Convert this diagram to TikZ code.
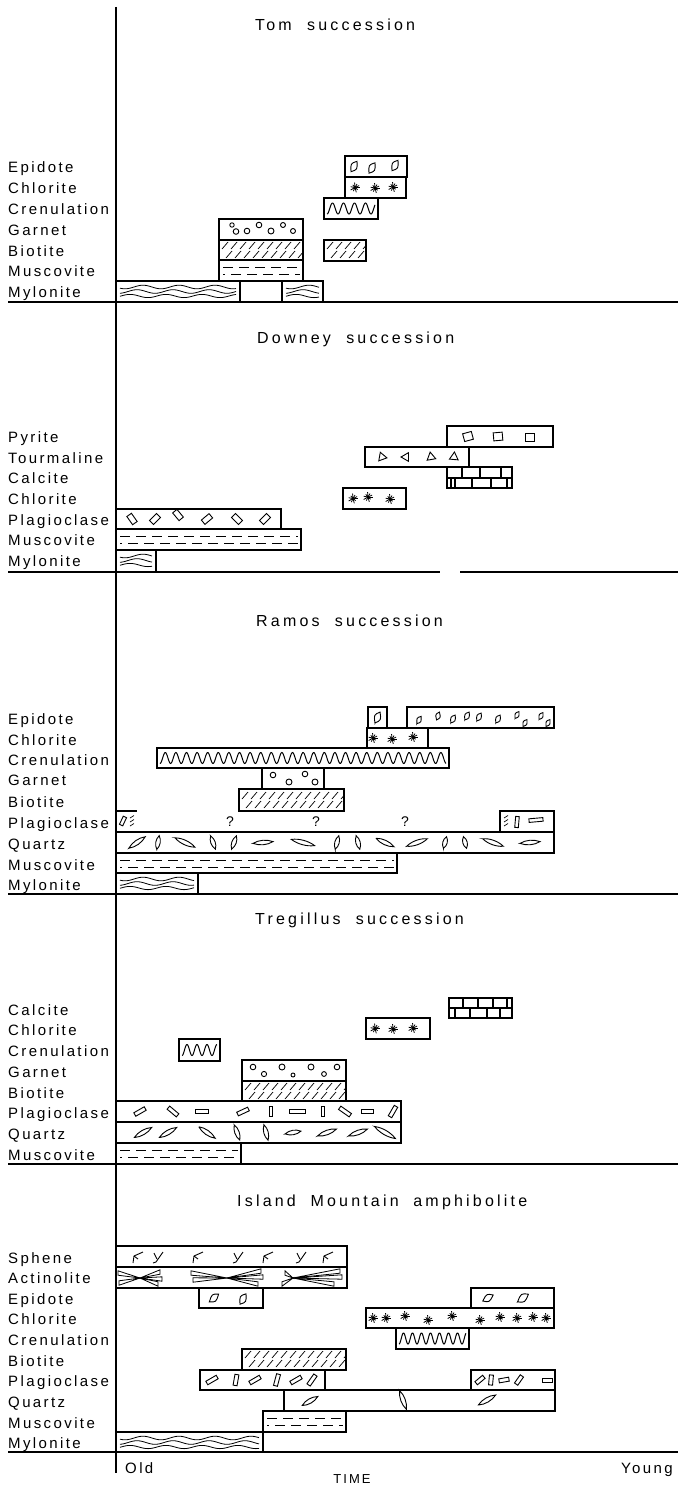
\documentclass[tikz,border=0pt]{standalone}
\usepackage{fontspec}
\setmainfont{Liberation Sans}
\newfontfamily\labfont[LetterSpace=16]{Liberation Sans}
\newfontfamily\titfont[LetterSpace=20]{Liberation Sans}
\tikzset{
  bx/.style={draw=black, line width=1.3pt},
  pat/.style={draw=black, line width=0.9pt},
  sepline/.style={draw=black, line width=1.3pt},
  lab/.style={font=\labfont\fontsize{15}{17}\selectfont, inner sep=0pt, anchor=base west},
  ttl/.style={font=\titfont\fontsize{16}{18}\selectfont, inner sep=0pt, anchor=base west},
  qm/.style={font=\labfont\fontsize{14}{16}\selectfont, inner sep=0pt},
}
% muscovite: two staggered rows of dashes
\newcommand\muscdash[4]{%
  \pgfmathsetmacro\ma{#1+4}\pgfmathsetmacro\mb{#3-3}%
  \pgfmathsetmacro\mya{#2+7}\pgfmathsetmacro\myb{#2+14}%
  \draw[pat,dash pattern=on 10pt off 6pt] (\ma,\mya) -- (\mb,\mya);
  \draw[pat,dash pattern=on 10pt off 6pt,dash phase=8pt] (\ma,\myb) -- (\mb,\myb);}
% biotite: short oblique strokes in two rows
\newcommand\biohatch[4]{%
  \begin{scope}
    \clip (#1+1,#2+1) rectangle (#3-1,#4-1);
    \foreach \d in {3,12,...,300}{%
      \draw[pat,line width=0.7pt] (#1+\d,#2+9) -- ++(6,-7);
      \draw[pat,line width=0.7pt] (#1+\d+4,#2+18) -- ++(6,-7);}
  \end{scope}}
% crenulation: sinusoid through the middle of the box
\newcommand\cren[5]{%
  \pgfmathsetmacro\ca{#1+3}\pgfmathsetmacro\cb{#3-3}\pgfmathsetmacro\cm{(#2+#4)/2}%
  \pgfmathsetmacro\ck{360/#5}%
  \draw[pat,line width=1pt] plot[domain=\ca:\cb,samples=400,variable=\t] (\t,{\cm+5.5*cos(\ck*(\t-\ca))});}
% mylonite: sinuous foliation
\newcommand\mylo[4]{%
  \begin{scope}
    \clip (#1,#2) rectangle (#3,#4);
    \pgfmathsetmacro\la{#1+4}\pgfmathsetmacro\lb{#3-4}%
    \draw[pat,line width=0.8pt] plot[domain=\la:\lb,samples=90,variable=\t] (\t,{#2+6+1.8*sin(10*(\t-#1))});
    \draw[pat,line width=0.8pt] plot[domain=\la:\lb,samples=90,variable=\t] (\t,{#2+10.5+1.8*sin(10*(\t-#1)+60)});
    \draw[pat,line width=0.8pt] plot[domain=\la:\lb,samples=90,variable=\t] (\t,{#2+15+1.6*sin(10*(\t-#1)+130)});
  \end{scope}}
\newcommand\gt[3]{\draw[pat] (#1,#2) circle (#3pt);}
\newcommand\chl[2]{%
  \foreach \a/\r in {0/4.5,40/3.5,75/5,115/4,150/5,190/4.5,230/3.5,265/5,300/4,335/4.5}{\draw[pat,line width=0.8pt] (#1,#2) -- ++(\a:\r);}
  \fill (#1,#2) circle (1.7pt);}
\newcommand\epi[4]{\draw[pat,shift={(#1,#2)},rotate=#3,scale=#4] (-6,0) .. controls (-1,4.5) .. (6,0) .. controls (1,-4.5) .. cycle;}
\newcommand\pyr[3]{\draw[pat,shift={(#1,#2)},rotate=#3] (-4.5,-4) rectangle (4.5,4);}
\newcommand\tur[3]{\draw[pat,shift={(#1,#2)},rotate=#3] (90:5) -- (210:5) -- (330:5) -- cycle;}
\newcommand\lath[5]{\draw[pat,shift={(#1,#2)},rotate=#3] (-#4,-#5) rectangle (#4,#5);}
\newcommand\qz[4]{\draw[pat,shift={(#1,#2)},rotate=#3] (-#4,0) .. controls ({-0.4*#4},3) and ({0.4*#4},3) .. (#4,0) .. controls ({0.4*#4},-3) and ({-0.4*#4},-3) .. cycle;}
\newcommand\sphA[2]{\draw[pat] (#1-4,#2+6) -- (#1-3,#2-1) -- (#1+6,#2-5); \draw[pat] (#1-3,#2-1) -- (#1+1,#2+2);}
\newcommand\sphB[2]{\draw[pat] (#1-3,#2-4) -- (#1,#2+2); \draw[pat] (#1+6,#2-5) -- (#1-1,#2+5) -- (#1-4,#2+6);}
\newcommand\actwedge[4]{\draw[pat,line width=0.8pt] (#1,#2) -- (#3,#4-2.2) -- (#3,#4+2.2) -- cycle;}
\newcommand\lbl[3]{\node[lab] (#1) at (8,#2) {#3};}

\begin{document}
\begin{tikzpicture}[x=1pt,y=-1pt]
\useasboundingbox (0,0) rectangle (678,1485);
\fill[white] (0,0) rectangle (678,1485);

% time axis and section rules
\draw[sepline] (116,7) -- (116,1473);
\draw[sepline] (8,302) -- (678,302);
\draw[sepline] (8,572) -- (440,572);
\draw[sepline] (460,572) -- (678,572);
\draw[sepline] (8,894) -- (678,894);
\draw[sepline] (8,1164) -- (678,1164);
\draw[sepline] (8,1452) -- (678,1452);

% ================= Tom succession =================
\node[ttl] (ttom) at (255,31) {Tom\ \ succession};
\lbl{tom1}{172}{Epidote}
\lbl{tom2}{193}{Chlorite}
\lbl{tom3}{214}{Crenulation}
\lbl{tom4}{235}{Garnet}
\lbl{tom5}{256}{Biotite}
\lbl{tom6}{276.5}{Muscovite}
\lbl{tom7}{297}{Mylonite}
\draw[bx] (345,156) rectangle (407,177);
\epi{354}{166.5}{60}{1} \epi{372}{168}{60}{1} \epi{395}{165.5}{60}{1}
\draw[bx] (345,177) rectangle (406,198);
\chl{355}{187.5} \chl{375}{188} \chl{393}{187}
\draw[bx] (324,198) rectangle (378,219);
\cren{324}{198}{378}{219}{11}
\draw[bx] (219,219) rectangle (303,240);
\gt{232}{225}{2.2} \gt{236}{231.5}{2.8} \gt{247}{231}{2.8} \gt{259}{225}{2.8}
\gt{271}{231}{3} \gt{283}{225}{2.5} \gt{293}{231}{2.5}
\draw[bx] (219,240) rectangle (303,260);
\biohatch{219}{240}{303}{260}
\draw[bx] (324,240) rectangle (366,261);
\biohatch{324}{240}{366}{261}
\draw[bx] (219,260) rectangle (303,281);
\muscdash{219}{260}{303}{281}
\draw[bx] (116,281) rectangle (323,302);
\draw[bx] (240,281) -- (240,302);
\draw[bx] (282,281) -- (282,302);
\mylo{116}{281}{240}{302}
\mylo{282}{281}{323}{302}

% ================= Downey succession =================
\node[ttl] (tdow) at (257,343) {Downey\ \ succession};
\lbl{dow1}{442.5}{Pyrite}
\lbl{dow2}{463}{Tourmaline}
\lbl{dow3}{483.5}{Calcite}
\lbl{dow4}{504.5}{Chlorite}
\lbl{dow5}{525}{Plagioclase}
\lbl{dow6}{545.5}{Muscovite}
\lbl{dow7}{566.5}{Mylonite}
\draw[bx] (447,426) rectangle (553,447);
\pyr{468}{436.5}{15} \pyr{498}{436.5}{5} \pyr{530}{437}{0}
\draw[bx] (365,447) rectangle (469,467);
\tur{382}{457}{200} \tur{406}{457}{30} \tur{431}{457}{190} \tur{454}{457}{175}
\draw[bx] (447,467) rectangle (512,488);
\draw[bx] (447,478) -- (512,478);
\draw[bx] (451,478) -- (451,488);
\foreach \xx in {462,480,501} \draw[bx] (\xx,467) -- (\xx,478);
\foreach \xx in {455,472,491,507} \draw[bx] (\xx,478) -- (\xx,488);
\draw[bx] (343,488) rectangle (406,509);
\chl{353}{498.5} \chl{368}{497} \chl{390}{499}
\draw[bx] (116,509) rectangle (281,529);
\lath{132}{519}{-55}{5}{2.8} \lath{155}{519}{45}{5}{2.8} \lath{178}{515}{-50}{5}{2.8}
\lath{207}{519}{40}{5}{2.8} \lath{237}{519}{-45}{5}{2.8} \lath{265}{519}{45}{5}{2.8}
\draw[bx] (116,529) rectangle (301,550);
\muscdash{116}{529}{301}{550}
\draw[bx] (116,550) rectangle (156,572);
\mylo{116}{550}{156}{572}

% ================= Ramos succession =================
\node[ttl] (tram) at (256,626) {Ramos\ \ succession};
\lbl{ram1}{724.5}{Epidote}
\lbl{ram2}{745}{Chlorite}
\lbl{ram3}{765}{Crenulation}
\lbl{ram4}{785.5}{Garnet}
\lbl{ram5}{807}{Biotite}
\lbl{ram6}{828.5}{Plagioclase}
\lbl{ram7}{849.5}{Quartz}
\lbl{ram8}{870}{Muscovite}
\lbl{ram9}{890}{Mylonite}
\draw[bx] (368,707) rectangle (387,728);
\epi{377.5}{717.5}{65}{1}
\draw[bx] (407,707) rectangle (554,728);
\epi{419}{720}{60}{0.7} \epi{438}{716}{70}{0.7} \epi{453}{719}{60}{0.75}
\epi{467}{716}{60}{0.75} \epi{479}{717}{60}{0.75} \epi{498}{719}{60}{0.75}
\epi{517}{715}{60}{0.65} \epi{525}{723}{60}{0.65} \epi{541}{716}{60}{0.65} \epi{548}{723}{60}{0.65}
\draw[bx] (367,728) rectangle (428,748);
\chl{373}{738} \chl{392}{739} \chl{413}{737}
\draw[bx] (157,748) rectangle (449,768);
\cren{157}{748}{449}{768}{10.6}
\draw[bx] (262,768) rectangle (324,789);
\gt{273}{775}{2.8} \gt{289}{782}{3} \gt{305}{774}{2.8} \gt{315}{782}{3}
\draw[bx] (239,789) rectangle (344,811);
\biohatch{239}{790}{344}{811}
\draw[bx] (116,811) -- (137,811);
\lath{123}{821}{65}{4.5}{1.8}
\draw[pat,line width=0.7pt] (130,818) -- (134,815.5);
\draw[pat,line width=0.7pt] (130,822) -- (134,819.5);
\draw[pat,line width=0.7pt] (130,826) -- (134,823.5);
\draw[bx] (500,811) rectangle (554,832);
\draw[pat,line width=0.7pt] (504,818) -- (508,815.5);
\draw[pat,line width=0.7pt] (504,822) -- (508,819.5);
\draw[pat,line width=0.7pt] (504,826) -- (508,823.5);
\lath{517}{822}{85}{5.5}{1.8} \lath{536}{820}{5}{7}{1.8}
\node[qm] (q1) at (230,822) {?};
\node[qm] (q2) at (316,822) {?};
\node[qm] (q3) at (405,822) {?};
\draw[bx] (116,832) rectangle (554,853);
\qz{137}{842.5}{35}{10} \qz{158}{842.5}{80}{7} \qz{185}{842.5}{-25}{11}
\qz{213}{842.5}{-70}{7} \qz{234}{842.5}{70}{7} \qz{263}{842.5}{5}{10}
\qz{303}{842.5}{-15}{12} \qz{337}{842.5}{75}{7} \qz{358}{842.5}{-75}{7}
\qz{385}{842.5}{-25}{10} \qz{417}{842.5}{20}{11} \qz{445}{842.5}{75}{6}
\qz{465}{842.5}{-75}{6} \qz{493}{842.5}{-20}{11} \qz{530}{842.5}{5}{10}
\draw[bx] (116,853) rectangle (397,873);
\muscdash{116}{853}{397}{873}
\draw[bx] (116,873) rectangle (198,894);
\mylo{116}{873}{198}{894}

% ================= Tregillus succession =================
\node[ttl] (ttre) at (255,924) {Tregillus\ \ succession};
\lbl{tre1}{1015}{Calcite}
\lbl{tre2}{1035.5}{Chlorite}
\lbl{tre3}{1056.5}{Crenulation}
\lbl{tre4}{1077.5}{Garnet}
\lbl{tre5}{1098}{Biotite}
\lbl{tre6}{1118.5}{Plagioclase}
\lbl{tre7}{1139.5}{Quartz}
\lbl{tre8}{1160}{Muscovite}
\draw[bx] (449,998) rectangle (512,1018);
\draw[bx] (449,1008) -- (512,1008);
\foreach \xx in {463,478,493,507} \draw[bx] (\xx,998) -- (\xx,1008);
\foreach \xx in {455,470,487,500} \draw[bx] (\xx,1008) -- (\xx,1018);
\draw[bx] (366,1018) rectangle (430,1039);
\chl{375}{1028.5} \chl{393}{1029} \chl{413}{1028}
\draw[bx] (179,1039) rectangle (220,1061);
\cren{179}{1039}{220}{1061}{10}
\draw[bx] (242,1060) rectangle (346,1081);
\gt{253}{1067}{2.8} \gt{264}{1074}{2.6} \gt{282}{1067}{3} \gt{293}{1075}{2}
\gt{311}{1067}{3} \gt{324}{1074}{2.4} \gt{337}{1067}{2.8}
\draw[bx] (242,1081) rectangle (346,1101);
\biohatch{242}{1081}{346}{1101}
\draw[bx] (116,1101) rectangle (401,1122);
\lath{140}{1111.5}{30}{6}{2} \lath{173}{1111.5}{-40}{6}{2} \lath{202}{1111.5}{0}{6.5}{2}
\lath{243}{1111.5}{25}{6}{2} \lath{271}{1111.5}{90}{5}{1.8} \lath{297}{1111.5}{0}{8}{1.8}
\lath{323}{1111.5}{90}{5}{1.8} \lath{345}{1111.5}{-35}{6.5}{2} \lath{367}{1111.5}{0}{6}{2}
\lath{393}{1111.5}{60}{6}{2}
\draw[bx] (116,1122) rectangle (401,1143);
\qz{143}{1132.5}{30}{10} \qz{168}{1132.5}{30}{10} \qz{207}{1132.5}{-35}{10}
\qz{237}{1132.5}{-70}{8} \qz{266}{1132.5}{-75}{8} \qz{293}{1132.5}{10}{8}
\qz{327}{1132.5}{20}{10} \qz{358}{1132.5}{20}{10} \qz{385}{1132.5}{-30}{12}
\draw[bx] (116,1143) rectangle (241,1164);
\muscdash{116}{1143}{241}{1164}

% ================= Island Mountain amphibolite =================
\node[ttl] (tisl) at (237,1206) {Island\hspace{7pt} Mountain\hspace{7pt} amphibolite};
\lbl{isl1}{1263}{Sphene}
\lbl{isl2}{1283.5}{Actinolite}
\lbl{isl3}{1304}{Epidote}
\lbl{isl4}{1324.5}{Chlorite}
\lbl{isl5}{1345}{Crenulation}
\lbl{isl6}{1366}{Biotite}
\lbl{isl7}{1386.5}{Plagioclase}
\lbl{isl8}{1407}{Quartz}
\lbl{isl9}{1428}{Muscovite}
\lbl{isl10}{1448}{Mylonite}
\draw[bx] (116,1246) rectangle (347,1267);
\sphA{137}{1257} \sphB{157}{1257} \sphA{197}{1257} \sphB{237}{1257}
\sphA{267}{1257} \sphB{300}{1257} \sphA{327}{1257}
\draw[bx] (116,1267) rectangle (347,1288);
\actwedge{140}{1278}{118}{1273} \actwedge{140}{1278}{119}{1283}
\actwedge{140}{1278}{160}{1272} \actwedge{140}{1278}{162}{1279} \actwedge{140}{1278}{158}{1284}
\actwedge{227}{1278}{191}{1273} \actwedge{227}{1278}{193}{1280}
\actwedge{227}{1278}{261}{1271} \actwedge{227}{1278}{263}{1277} \actwedge{227}{1278}{258}{1284}
\actwedge{293}{1278}{282}{1284} \actwedge{293}{1278}{285}{1273}
\actwedge{293}{1278}{340}{1271} \actwedge{293}{1278}{342}{1277} \actwedge{293}{1278}{334}{1284}
\draw[bx] (199,1288) rectangle (263,1308);
\epi{214}{1298}{40}{1} \epi{243}{1299}{60}{1}
\draw[bx] (471,1288) rectangle (554,1308);
\epi{488}{1298}{30}{1} \epi{523}{1298}{35}{1.1}
\draw[bx] (366,1308) rectangle (554,1328);
\chl{373}{1318} \chl{386}{1318} \chl{405}{1316} \chl{428}{1320} \chl{452}{1316}
\chl{480}{1320} \chl{500}{1317} \chl{517}{1318} \chl{533}{1317} \chl{546}{1318}
\draw[bx] (396,1328) rectangle (469,1349);
\cren{396}{1328}{469}{1349}{9}
\draw[bx] (242,1349) rectangle (346,1370);
\biohatch{242}{1349}{346}{1370}
\draw[bx] (200,1370) rectangle (325,1390);
\lath{212}{1380}{30}{6}{2} \lath{236}{1380}{80}{5.5}{2} \lath{255}{1380}{30}{6}{2}
\lath{277}{1380}{75}{6}{2} \lath{296}{1380}{30}{6}{2} \lath{312}{1380}{55}{6}{2}
\draw[bx] (471,1370) rectangle (555,1390);
\lath{480}{1380}{40}{5}{2} \lath{491}{1380}{85}{5}{2} \lath{504}{1380}{10}{5}{2}
\lath{519}{1380}{55}{5}{2} \lath{547}{1380}{0}{5}{2}
\draw[bx] (284,1390) rectangle (555,1411);
\qz{310}{1401}{30}{9} \qz{403}{1400}{-70}{10} \qz{487}{1400}{30}{10}
\draw[bx] (263,1411) rectangle (346,1432);
\muscdash{263}{1411}{346}{1432}
\draw[bx] (116,1432) rectangle (263,1452);
\mylo{116}{1432}{263}{1452}

% time axis captions
\node[lab] (old) at (125,1473) {Old};
\node[lab] (young) at (621,1473) {Young};
\node[font=\labfont\fontsize{13}{15}\selectfont, inner sep=0pt, anchor=base] (time) at (352,1483) {TIME};
\end{tikzpicture}
\end{document}
